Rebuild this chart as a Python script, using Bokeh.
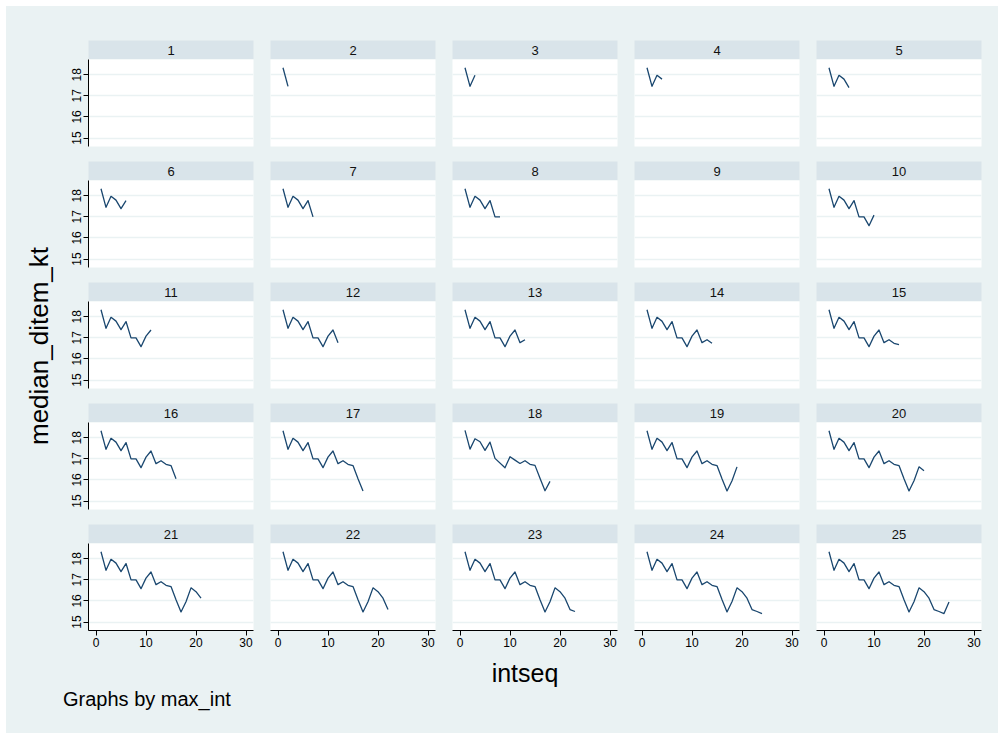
from bokeh.plotting import figure
from bokeh.layouts import gridplot, row, column
from bokeh.models import Div, Range1d, LinearAxis, FixedTicker
from bokeh.core.properties import value
from bokeh.embed import file_html
from bokeh.resources import INLINE

# ---------------- data ----------------
panel_ids = list(range(1, 26))
intseq = list(range(1, 26))
median_ditem_kt = [18.33, 17.45, 17.97, 17.79, 17.39, 17.77, 17.00, 17.00, 16.58, 17.08,
                   17.37, 16.77, 16.91, 16.74, 16.68, 16.06, 15.48, 15.96, 16.62, 16.44,
                   16.13, 15.59, 15.50, 15.40, 15.95]
panel18_intseq = [1, 2, 3, 4, 5, 6, 7, 9, 10, 11, 12, 13, 14, 15, 16, 17, 18]
panel18_median = [18.35, 17.46, 17.95, 17.81, 17.40, 17.79, 17.02, 16.58, 17.10, 16.94,
                  16.78, 16.91, 16.74, 16.69, 16.08, 15.49, 15.93]
empty_panels = [9]
y_ticks = [15, 16, 17, 18]
x_ticks = [0, 10, 20, 30]
x_title = "intseq"
y_title = "median_ditem_kt"
note_text = "Graphs by max_int"

# ---------------- style ----------------
BG = "#EAF2F3"
HEAD = "#D9E4EA"
LINE = "#1A476F"
FONT = "Liberation Sans"

NCOLS = 5
FRAME_W = 165
HEAD_H = 19
FRAME_H = 87
COL_LEFT = [26, 8, 8, 8, 8]
COL_RIGHT = [9, 9, 9, 9, 17]
TOP0 = 34
YDIV_W = 56


def series_for(n):
    if n in empty_panels:
        return [], []
    if n == 18:
        return panel18_intseq, panel18_median
    return intseq[:n], median_ditem_kt[:n]


def header_fig(n, c, r):
    top = TOP0 if r == 0 else 7
    p = figure(width=COL_LEFT[c] + FRAME_W + COL_RIGHT[c], height=top + HEAD_H,
               x_range=Range1d(0, 1), y_range=Range1d(0, 1),
               min_border_left=COL_LEFT[c], min_border_right=COL_RIGHT[c],
               min_border_top=top, min_border_bottom=0,
               toolbar_location=None, output_backend="svg",
               x_axis_location=None, y_axis_location=None,
               background_fill_color=HEAD, border_fill_color=BG,
               outline_line_color=None)
    p.grid.visible = False
    p.text(x=[0.5], y=[0.5], text=[str(n)], text_align="center", text_baseline="middle",
           text_font=value(FONT), text_font_size="13px", text_color="#111111")
    return p


def plot_fig(n, c, r):
    bottom = 24 if r == 4 else 8
    p = figure(width=COL_LEFT[c] + FRAME_W + COL_RIGHT[c], height=FRAME_H + bottom,
               x_range=Range1d(-1.5, 31.5), y_range=Range1d(14.6, 18.72),
               min_border_left=COL_LEFT[c], min_border_right=COL_RIGHT[c],
               min_border_top=0, min_border_bottom=bottom,
               toolbar_location=None, output_backend="svg",
               x_axis_location=None, y_axis_location=None,
               background_fill_color="white", border_fill_color=BG,
               outline_line_color=None)
    p.xgrid.visible = False
    p.ygrid.ticker = FixedTicker(ticks=y_ticks)
    p.ygrid.grid_line_color = BG
    p.ygrid.grid_line_width = 1.5
    if c == 0:
        ax = LinearAxis(ticker=FixedTicker(ticks=y_ticks))
        ax.axis_line_color = "black"
        ax.axis_line_width = 1
        ax.major_tick_line_color = "black"
        ax.major_tick_out = 5
        ax.major_tick_in = 0
        ax.minor_tick_line_color = None
        ax.major_label_orientation = "vertical"
        ax.major_label_standoff = 2
        ax.major_label_text_font = FONT
        ax.major_label_text_font_size = "12px"
        ax.major_label_text_color = "black"
        p.add_layout(ax, "left")
    if r == 4:
        ax = LinearAxis(ticker=FixedTicker(ticks=x_ticks))
        ax.axis_line_color = "black"
        ax.axis_line_width = 1
        ax.major_tick_line_color = "black"
        ax.major_tick_out = 5
        ax.major_tick_in = 0
        ax.minor_tick_line_color = None
        ax.major_label_standoff = 2
        ax.major_label_text_font = FONT
        ax.major_label_text_font_size = "12px"
        ax.major_label_text_color = "black"
        p.add_layout(ax, "below")
    xs, ys = series_for(n)
    p.line(x=xs, y=ys, line_color=LINE, line_width=1.3, line_join="round")
    return p


rows = []
for r in range(5):
    hrow, prow = [], []
    for c in range(NCOLS):
        n = panel_ids[r * NCOLS + c]
        hrow.append(header_fig(n, c, r))
        prow.append(plot_fig(n, c, r))
    rows.append(hrow)
    rows.append(prow)

grid = gridplot(rows, toolbar_location=None)

GRID_H = (TOP0 + HEAD_H + FRAME_H + 8) + 3 * (7 + HEAD_H + FRAME_H + 8) + (7 + HEAD_H + FRAME_H + 24)
TOTAL_W = YDIV_W + sum(COL_LEFT) + NCOLS * FRAME_W + sum(COL_RIGHT)

ydiv = Div(
    text=(f'<div style="position:relative;width:{YDIV_W}px;height:{GRID_H}px;background:{BG};">'
          f'<div style="position:absolute;left:34px;top:340px;white-space:nowrap;'
          f'font-family:\'{FONT}\';font-size:26px;color:#000;line-height:1.3;'
          f'transform:translate(-50%,-50%) rotate(-90deg);">{y_title}</div></div>'),
    width=YDIV_W, height=GRID_H, margin=0)

xdiv = Div(
    text=(f'<div style="position:relative;width:{TOTAL_W}px;height:33px;background:{BG};">'
          f'<div style="position:absolute;left:519px;top:5px;white-space:nowrap;'
          f'font-family:\'{FONT}\';font-size:25px;color:#000;line-height:1.15;'
          f'transform:translateX(-50%);">{x_title}</div></div>'),
    width=TOTAL_W, height=33, margin=0)

ndiv = Div(
    text=(f'<div style="position:relative;width:{TOTAL_W}px;height:46px;background:{BG};">'
          f'<div style="position:absolute;left:57px;top:1px;white-space:nowrap;'
          f'font-family:\'{FONT}\';font-size:20px;color:#000;line-height:1.15;">'
          f'{note_text}</div></div>'),
    width=TOTAL_W, height=46, margin=0)

layout = column(row(ydiv, grid), xdiv, ndiv, margin=(6, 0, 0, 6),
                styles={"background-color": BG})

open("out.html", "w").write(file_html(layout, INLINE))
